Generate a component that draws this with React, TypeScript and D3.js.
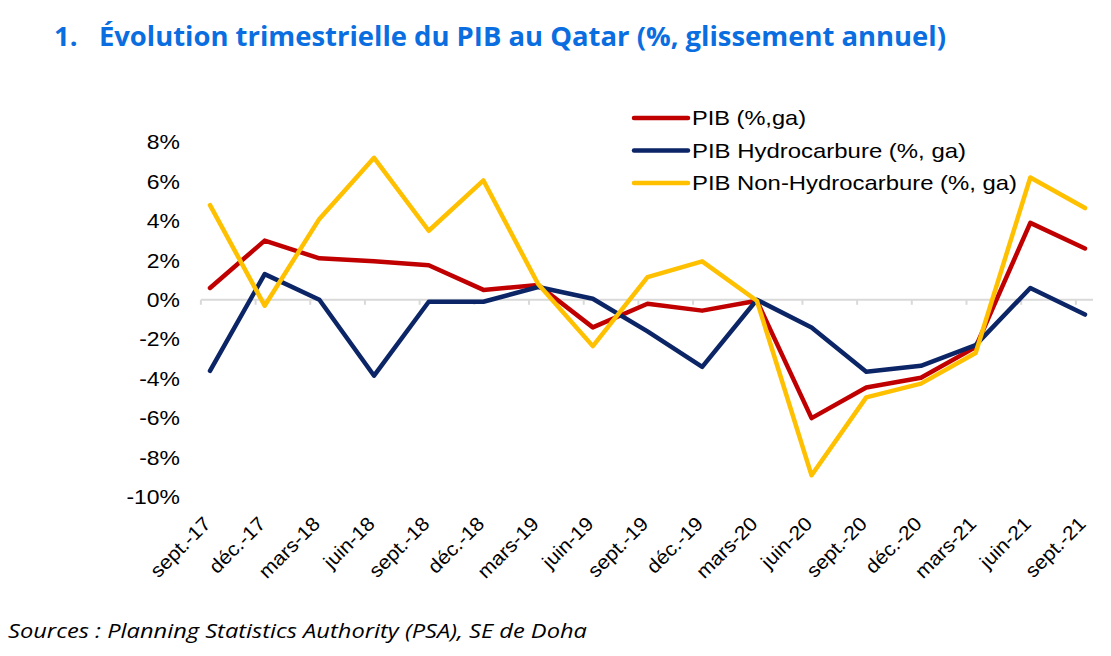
import React from "react";
import * as d3 from "d3";

const categories = ["sept.-17","déc.-17","mars-18","juin-18","sept.-18","déc.-18","mars-19","juin-19","sept.-19","déc.-19","mars-20","juin-20","sept.-20","déc.-20","mars-21","juin-21","sept.-21"];
const pib = [0.6, 3.0, 2.1, 1.95, 1.75, 0.5, 0.75, -1.4, -0.2, -0.55, -0.05, -6.0, -4.45, -3.95, -2.4, 3.9, 2.6];
const hydro = [-3.6, 1.3, 0.0, -3.85, -0.1, -0.1, 0.65, 0.05, -1.6, -3.4, 0.0, -1.4, -3.65, -3.35, -2.3, 0.6, -0.75];
const nonHydro = [4.8, -0.3, 4.1, 7.2, 3.5, 6.05, 0.8, -2.35, 1.15, 1.95, -0.05, -8.9, -4.95, -4.25, -2.7, 6.2, 4.65];
const yTicks = [8, 6, 4, 2, 0, -2, -4, -6, -8, -10];
const seriesNames = ["PIB (%,ga)", "PIB Hydrocarbure (%, ga)", "PIB Non-Hydrocarbure (%, ga)"];
const seriesColors = ["#C00000", "#0B2566", "#FFC000"];
const legendWidths = [114, 274, 325];

export default function App() {
  const x = d3.scalePoint<string>().domain(categories).range([210, 1085]);
  const y = d3.scaleLinear().domain([-10, 8]).range([497, 142]);
  const line = d3.line<number>().x((_, i) => x(categories[i]) as number).y((d) => y(d));
  const series = [pib, hydro, nonHydro];
  const font = "'Liberation Sans', Arial, sans-serif";
  const step = x.step();
  return (
    <svg width={1111} height={656} style={{ position: "absolute", left: 0, top: 0, background: "#fff" }}>
      <rect width={1111} height={656} fill="#fff" />
      <text x={54} y={46} fill="#0A6EE0" fontFamily="'Open Sans', sans-serif" fontWeight={700} fontSize={26}
        textLength={892} lengthAdjust="spacingAndGlyphs" xmlSpace="preserve">1.   Évolution trimestrielle du PIB au Qatar (%, glissement annuel)</text>
      {/* zero line */}
      <line x1={(x(categories[0]) as number) - step / 6} x2={(x(categories[categories.length - 1]) as number) + 8} y1={y(0)} y2={y(0)} stroke="#D9D9D9" strokeWidth={2} />
      {categories.map((c) => (
        <line key={c} x1={(x(c) as number) - step / 6} x2={(x(c) as number) - step / 6} y1={y(0)} y2={y(0) + 5} stroke="#D9D9D9" strokeWidth={2} />
      ))}
      {yTicks.map((t) => (
        <text key={t} transform={`translate(180,${y(t)}) scale(1.12,1)`} dy="0.35em" textAnchor="end" fontFamily={font} fontSize={20.5} fill="#000">{`${t}%`}</text>
      ))}
      {categories.map((c) => (
        <text key={c} transform={`translate(${(x(c) as number) + 2},${525}) rotate(-45) scale(1.08,1)`} textAnchor="end" fontFamily={font} fontSize={19.5} fill="#000">{c}</text>
      ))}
      {series.map((s, i) => (
        <path key={i} d={line(s) || ""} fill="none" stroke={seriesColors[i]} strokeWidth={4.5} strokeLinejoin="round" strokeLinecap="round" />
      ))}
      {seriesNames.map((n, i) => (
        <g key={n}>
          <line x1={634} x2={688} y1={118 + i * 32.5} y2={118 + i * 32.5} stroke={seriesColors[i]} strokeWidth={4.5} strokeLinecap="round" />
          <text x={692} y={118 + i * 32.5} dy="0.35em" fontFamily={font} fontSize={21} fill="#000"
            textLength={legendWidths[i]} lengthAdjust="spacingAndGlyphs">{n}</text>
        </g>
      ))}
      <text x={8} y={638} fontFamily="'Open Sans', sans-serif" fontStyle="italic" fontSize={20} fill="#000"
        textLength={579} lengthAdjust="spacingAndGlyphs">Sources : Planning Statistics Authority (PSA), SE de Doha</text>
    </svg>
  );
}
